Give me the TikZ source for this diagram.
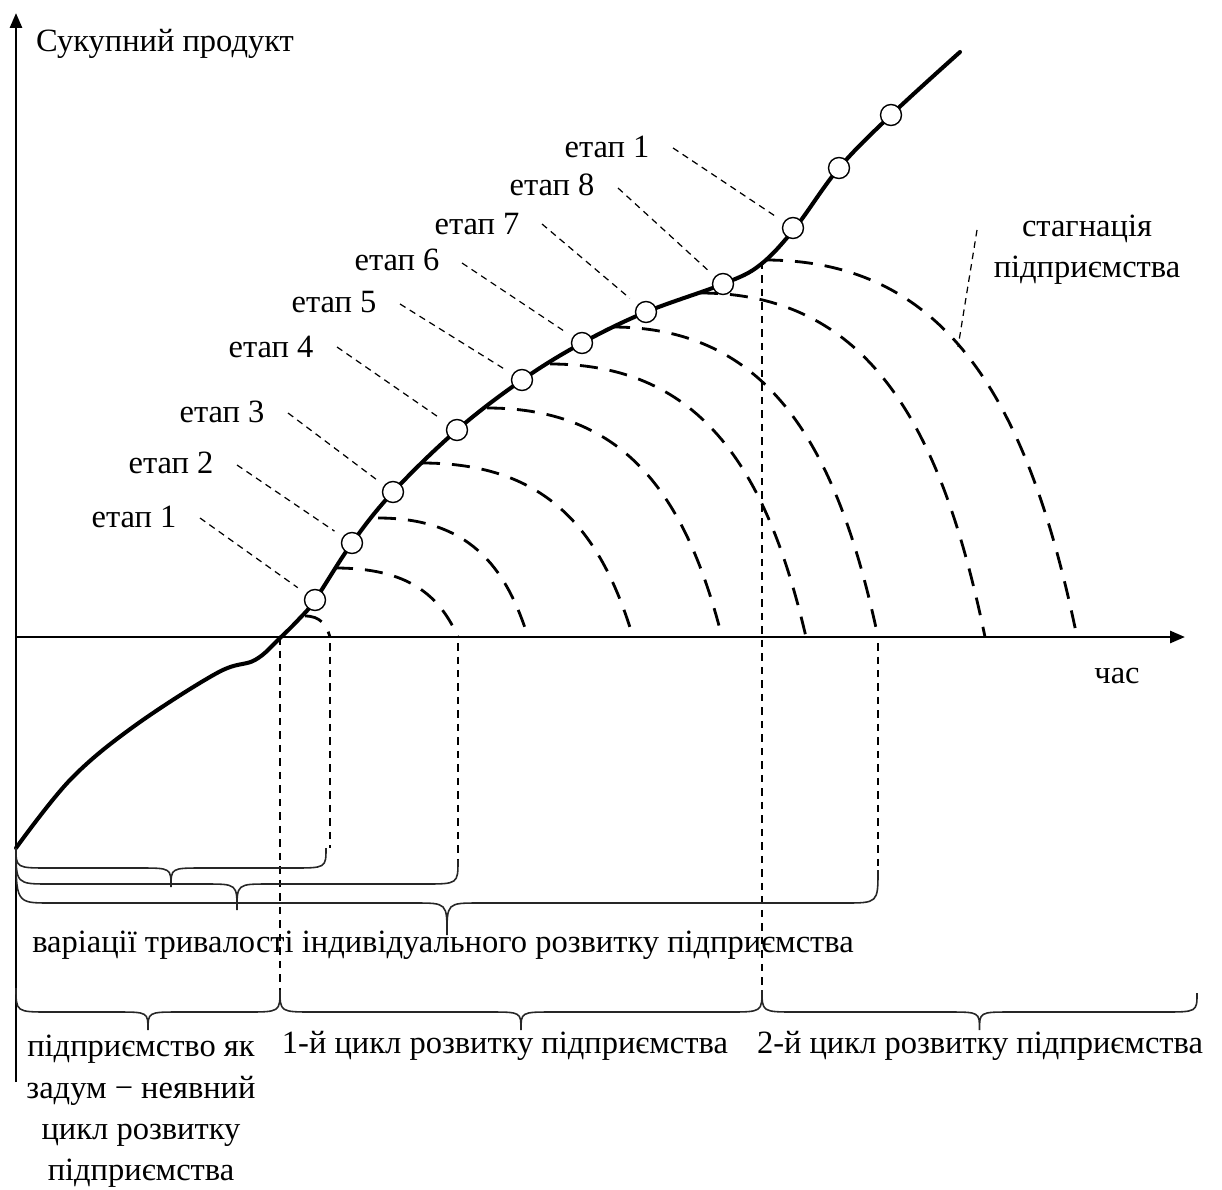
\documentclass[tikz,border=0pt]{standalone}
\usepackage{fontspec}
\setmainfont{Liberation Serif}
\usetikzlibrary{arrows.meta}

% curly brace: x1, y1, x2, y2, line y, tip y
\newcommand{\spanbrace}[6]{%
  \draw[brace] (#1,#2) .. controls (#1,#5) .. ({#1+34},#5)
    -- ({(#1+#3)/2-32},#5) .. controls ({(#1+#3)/2},#5) .. ({(#1+#3)/2},#6)
    .. controls ({(#1+#3)/2},#5) .. ({(#1+#3)/2+32},#5)
    -- ({#3-34},#5) .. controls (#3,#5) .. (#3,#4);}

\begin{document}
\begin{tikzpicture}[x=0.02cm,y=-0.02cm,
    font=\fontsize{18.5}{23.5}\selectfont,
    axis/.style={line width=1.6pt,-{Triangle[length=3mm,width=2.4mm]}},
    growth/.style={line width=2.3pt,line cap=round},
    stage/.style={line width=1.6pt,dash pattern=on 0.36cm off 0.24cm},
    guide/.style={line width=0.7pt,dash pattern=on 0.15cm off 0.12cm},
    leader/.style={line width=0.7pt,dash pattern=on 0.13cm off 0.1cm,shorten >=0.2cm},
    dot/.style={circle,draw,line width=0.8pt,fill=white,inner sep=0pt,minimum size=0.42cm},
    brace/.style={line width=0.9pt,black!85}]
  \useasboundingbox (0,0) rectangle (1222,1189);

  % axes
  \coordinate (o) at (16,637);
  \coordinate (ybot) at (16,1082);
  \coordinate (ytop) at (16,13);
  \coordinate (xend) at (1185,637);
  \draw[axis] (ybot) -- (ytop);
  \draw[axis] (o) -- (xend);
  \node[anchor=west] (ylab) at (30,44) {Сукупний продукт};
  \node (xlab) at (1117,676) {час};

  % life cycles of the stages
  \foreach \sx/\sy/\ex in {305/616/330, 335/568/458, 378/518/528, 422/463/633,
                          487/408/722, 550/364/806, 612/327/878, 700/293/985, 765/260/1077}
    \draw[stage] (\sx,\sy) .. controls ({\sx+0.6*(\ex-\sx)},\sy)
      and ({\ex-0.15*(\ex-\sx)},{\sy+0.4*(637-\sy)}) .. (\ex,637);

  % guide lines
  \coordinate (c0) at (280,637);
  \coordinate (c1) at (762,262);
  \coordinate (b0) at (280,990);
  \coordinate (b1) at (762,990);
  \draw[guide] (c0) -- (b0);
  \draw[guide] (c1) -- (b1);
  \foreach \x/\y in {330/848, 458/860, 878/868}
    \draw[guide] (\x,643) -- (\x,\y);

  % total product
  \draw[growth] plot[smooth,tension=0.6] coordinates {(16,848) (70,780) (133,727)
    (217,673) (255,660) (280,638) (300,618) (315,600) (352,543) (393,492) (457,430)
    (522,380) (582,343) (646,312) (723,284) (760,265) (795,228) (839,168) (891,115) (960,52)};

  \foreach \i/\x/\y in {1/315/600, 2/352/543, 3/393/492, 4/457/430, 5/522/380,
                        6/582/343, 7/646/312, 8/723/284, 9/793/228, 10/839/168, 11/891/115}
    \node[dot] (p\i) at (\x,\y) {};

  % stage labels
  \foreach \i/\x/\y/\n in {1/134/517/1, 2/171/463/2, 3/222/412/3, 4/271/347/4, 5/334/302/5,
                           6/397/260/6, 7/477/224/7, 8/552/185/8, 9/607/147/1}
    \node (lab\i) at (\x,\y) {етап \n};
  \foreach \i/\x/\y in {1/200/518, 2/237/465, 3/288/413, 4/337/347, 5/400/304,
                        6/462/263, 7/542/224, 8/618/188, 9/673/148}
  {
    \coordinate (s\i) at (\x,\y);
    \draw[leader] (s\i) -- (p\i);
  }

  \node[align=center] (stag) at (1087,250) {стагнація\\підприємства};
  \coordinate (st0) at (977,230);
  \coordinate (st1) at (958,347);
  \draw[leader,shorten >=0pt] (st0) -- (st1);

  % braces
  \spanbrace{16}{848}{326}{848}{868}{887}
  \spanbrace{16}{848}{458}{860}{884}{910}
  \spanbrace{16}{848}{878}{870}{903}{935}
  \node (var) at (443,945) {варіації тривалості індивідуального розвитку підприємства};

  \spanbrace{16}{988}{280}{990}{1012}{1030}
  \spanbrace{280}{990}{762}{990}{1012}{1030}
  \spanbrace{762}{990}{1197}{993}{1012}{1030}
  \node[align=center,anchor=north] (cyc0) at (141,1029)
    {підприємство як\\задум − неявний\\цикл розвитку\\підприємства};
  \node (cyc1) at (505,1046) {1-й цикл розвитку підприємства};
  \node (cyc2) at (980,1046) {2-й цикл розвитку підприємства};
\end{tikzpicture}
\end{document}
